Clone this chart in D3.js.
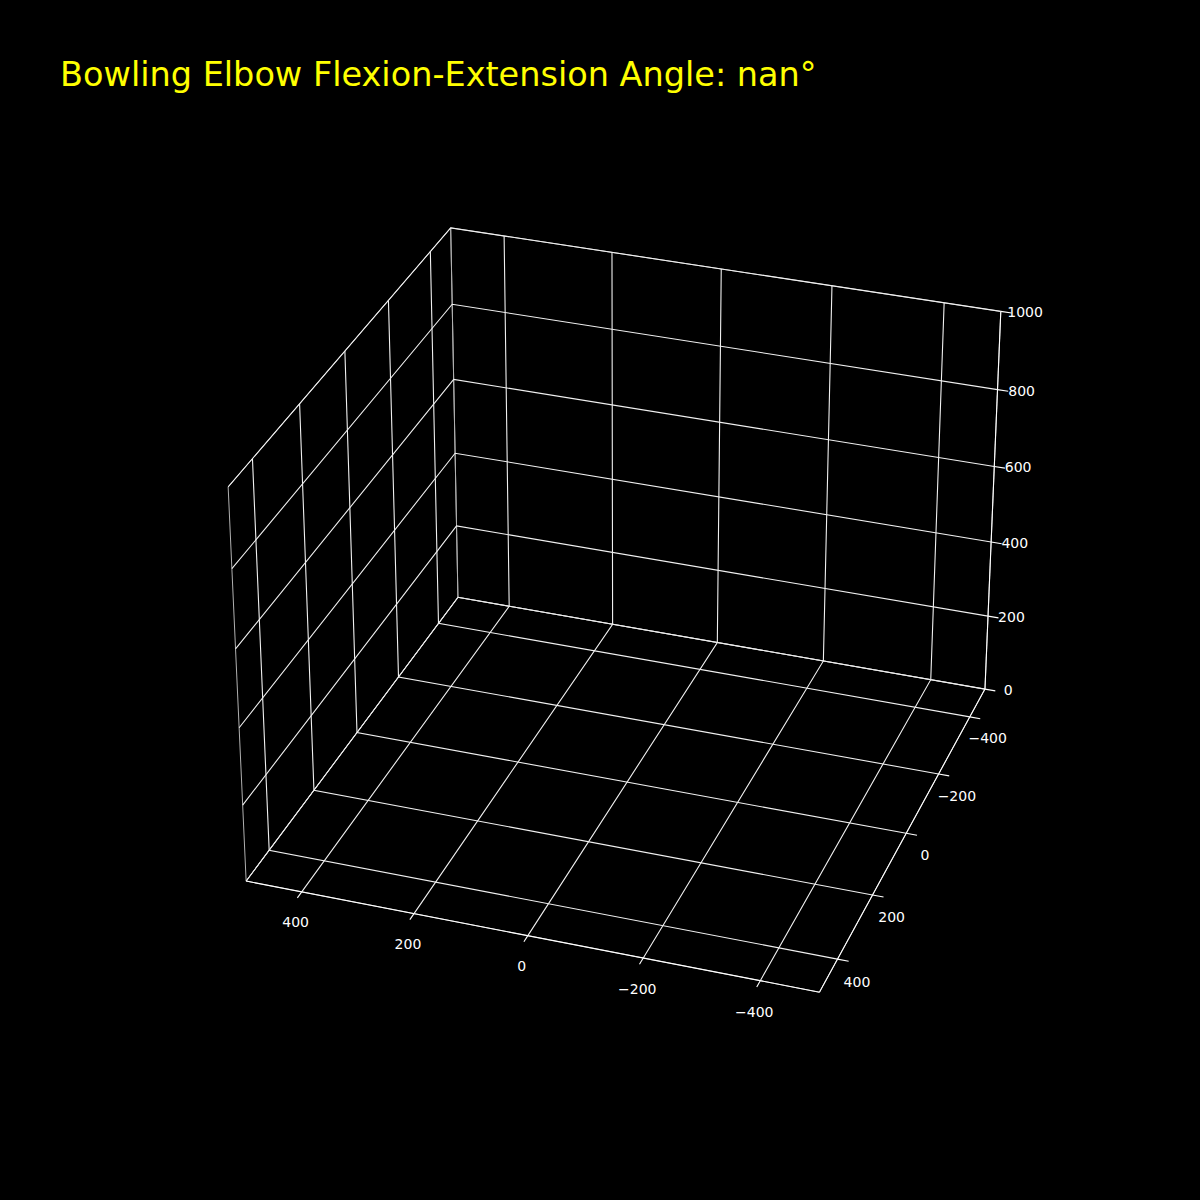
<!DOCTYPE html>
<html lang="en">
<head>
    <meta charset="UTF-8">
    <title>Bowling Elbow</title>
    <script src="https://d3js.org/d3.v7.min.js"></script>
    <style>
        body { margin: 0; background: #000; }
        text { font-family: 'DejaVu Sans', sans-serif; fill: white; }
    </style>
</head>
<body>
<script>
    const width = 1200;
    const height = 1200;

    const titleText = "Bowling Elbow Flexion-Extension Angle: nan\u00b0";
    const xDomain = [-500, 500];
    const yDomain = [-500, 500];
    const zDomain = [0, 1000];
    const xTicks = [-400, -200, 0, 200, 400];
    const yTicks = [-400, -200, 0, 200, 400];
    const zTicks = [0, 200, 400, 600, 800, 1000];

    // view (matplotlib-style perspective camera)
    const elev = 30, azim = 109;
    const viewScale = 4986.7, viewCx = 627.1, viewCy = 593.5;

    const asp = [4, 4, 3];
    const k = 1.8294640721620434 * 25 / 24 / Math.hypot(...asp);
    const box = asp.map(a => a * k);
    const sx = d3.scaleLinear().domain(xDomain).range([0, box[0]]);
    const sy = d3.scaleLinear().domain(yDomain).range([0, box[1]]);
    const sz = d3.scaleLinear().domain(zDomain).range([0, box[2]]);

    function dot(a, b) { return a[0]*b[0] + a[1]*b[1] + a[2]*b[2]; }

    const R = box.map(b => b / 2);
    const er = elev * Math.PI / 180, ar = azim * Math.PI / 180;
    const w = [Math.cos(er) * Math.cos(ar), Math.cos(er) * Math.sin(ar), Math.sin(er)];
    const eye = R.map((r, i) => r + 10 * w[i]);
    let u = [-w[1], w[0], 0];
    const nu = Math.hypot(...u);
    u = u.map(c => c / nu);
    const v = [w[1]*u[2] - w[2]*u[1], w[2]*u[0] - w[0]*u[2], w[0]*u[1] - w[1]*u[0]];

    function project(p) {
        const q = [sx(p[0]), sy(p[1]), sz(p[2])];
        const d = q.map((c, i) => c - eye[i]);
        const zw = -dot(w, d);
        return [viewCx + viewScale * dot(u, d) / zw, viewCy - viewScale * dot(v, d) / zw];
    }

    const svg = d3.select("body").append("svg").attr("width", width).attr("height", height);
    const line = d3.line();

    const [x0, x1] = xDomain, [y0, y1] = yDomain, [z0, z1] = zDomain;

    // pane outlines
    const panes = [
        [[x1, y0, z0], [x0, y0, z0], [x0, y1, z0], [x1, y1, z0], [x1, y0, z0]],
        [[x1, y0, z0], [x0, y0, z0], [x0, y0, z1], [x1, y0, z1], [x1, y0, z0]],
        [[x1, y0, z0], [x1, y1, z0], [x1, y1, z1], [x1, y0, z1], [x1, y0, z0]]
    ];
    svg.append("g").selectAll("path").data(panes).join("path")
        .attr("d", d => line(d.map(project)))
        .attr("fill", "none").attr("stroke", "#b0b0b0").attr("stroke-width", 1);

    // grid
    const grid = [].concat(
        xTicks.map(x => [[x, y1, z0], [x, y0, z0], [x, y0, z1]]),
        yTicks.map(y => [[x0, y, z0], [x1, y, z0], [x1, y, z1]]),
        zTicks.map(z => [[x0, y0, z], [x1, y0, z], [x1, y1, z]])
    );
    svg.append("g").selectAll("path").data(grid).join("path")
        .attr("d", d => line(d.map(project)))
        .attr("fill", "none").attr("stroke", "#f0f0f0").attr("stroke-width", 1.1);

    // axis lines
    const axes = [
        [[x0, y1, z0], [x1, y1, z0]],
        [[x0, y0, z0], [x0, y1, z0]],
        [[x0, y0, z0], [x0, y0, z1]]
    ];
    svg.append("g").selectAll("path").data(axes).join("path")
        .attr("d", d => line(d.map(project)))
        .attr("fill", "none").attr("stroke", "#ffffff").attr("stroke-width", 1.1);

    // tick marks
    const tOut = 19;
    const ticks = [].concat(
        xTicks.map(x => [[x, y1, z0], [x, y1 + tOut, z0]]),
        yTicks.map(y => [[x0, y, z0], [x0 - tOut, y, z0]]),
        zTicks.map(z => [[x0, y0, z], [x0 - tOut, y0, z]])
    );
    svg.append("g").selectAll("path").data(ticks).join("path")
        .attr("d", d => line(d.map(project)))
        .attr("fill", "none").attr("stroke", "#ffffff").attr("stroke-width", 1.1);

    // tick labels
    const fmt = d3.format("d");
    const labels = [].concat(
        xTicks.map(x => ({t: x, p: [x, y1 + 30, z0 - 55]})),
        yTicks.map(y => ({t: y, p: [x0 - 34, y, z0 - 50]})),
        zTicks.map(z => ({t: z, p: [x0 - 40, y0 - 10, z]}))
    );
    svg.append("g").selectAll("text").data(labels).join("text")
        .attr("x", d => project(d.p)[0])
        .attr("y", d => project(d.p)[1])
        .attr("text-anchor", "middle")
        .attr("dominant-baseline", "central")
        .style("font-size", "14px")
        .text(d => fmt(d.t).replace("-", "\u2212"));

    svg.append("text")
        .attr("x", 60).attr("y", 86)
        .style("font-size", "33.5px")
        .style("fill", "#ffff00")
        .text(titleText);
</script>
</body>
</html>
